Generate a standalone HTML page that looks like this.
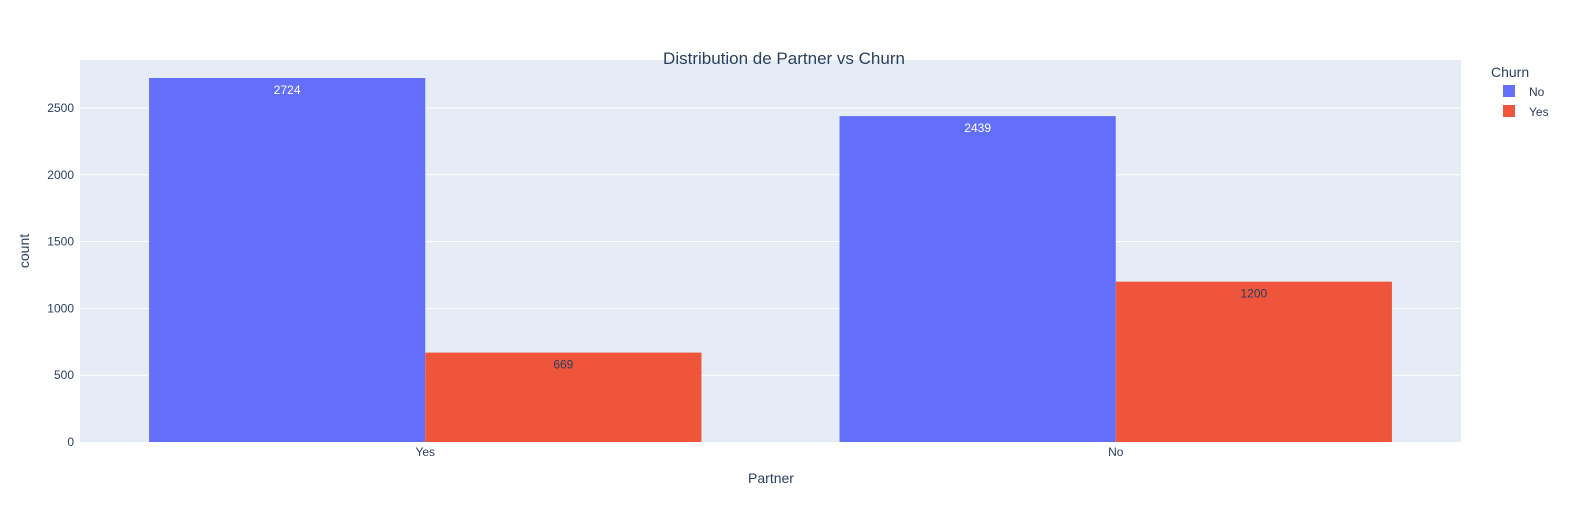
<!DOCTYPE html>
<html><head><meta charset="utf-8"><style>
body{margin:0;background:#fff;font-family:"Liberation Sans",Arial,sans-serif;overflow:hidden}
svg{display:block}
svg text{font-family:"Liberation Sans",Arial,sans-serif}
</style></head><body>
<svg id="chart" width="1577" height="525">
<rect x="0" y="0" width="1577" height="525" fill="#fff"/>
<rect x="80" y="60" width="1381" height="382" fill="#e5ecf6"/>
<g id="grid"></g><g id="bars"></g><g id="ticks"></g>
<text x="784" y="64" text-anchor="middle" font-size="17" fill="#2a3f5f">Distribution de Partner vs Churn</text>
<text x="771" y="483" text-anchor="middle" font-size="14" fill="#2a3f5f">Partner</text>
<text x="29" y="251" text-anchor="middle" font-size="14" fill="#2a3f5f" transform="rotate(-90 29 251)">count</text>
<text x="1491" y="77" font-size="14" fill="#2a3f5f">Churn</text>
<g><rect x="1503" y="85" width="12" height="12" fill="#636efa"/><text x="1529" y="96" font-size="12" fill="#2a3f5f">No</text></g>
<g><rect x="1503" y="105" width="12" height="12" fill="#ef553b"/><text x="1529" y="116" font-size="12" fill="#2a3f5f">Yes</text></g>
</svg>
<script>
const categories=["Yes","No"];
const seriesNames=["No","Yes"];
const noValues=[2724,2439];
const yesValues=[669,1200];
const yTicks=[0,500,1000,1500,2000,2500];
const NS="http://www.w3.org/2000/svg";
const x0=80,x1=1461,yb=442,ppu=0.13362;
const y=v=>yb-v*ppu;
const catW=(x1-x0)/categories.length;
const grid=document.getElementById('grid'),bars=document.getElementById('bars'),ticks=document.getElementById('ticks');
function mk(tag,attrs,parent){const e=document.createElementNS(NS,tag);for(const k in attrs)e.setAttribute(k,attrs[k]);parent.appendChild(e);return e;}
yTicks.forEach(t=>{
  if(t>0){const l=mk('line',{x1:x0,x2:x1,y1:y(t),y2:y(t),stroke:'#fff','stroke-width':1},grid);
  
  }
  const tx=mk('text',{x:74,y:y(t)+4,'text-anchor':'end','font-size':12,fill:'#2a3f5f'},ticks);tx.textContent=t;
  
  
});
const series=[noValues,yesValues],colors=['#636efa','#ef553b'],tcol=['#fff','#2a3f5f'];
categories.forEach((c,i)=>{
  const cx=x0+catW*(i+0.5),bw=catW*0.8/2;
  series.forEach((s,j)=>{
    const bx=cx-catW*0.4+j*bw;
    const r=mk('rect',{x:bx,y:y(s[i]),width:bw,height:yb-y(s[i]),fill:colors[j]},bars);
    
    
    const t=mk('text',{x:bx+bw/2,y:y(s[i])+16,'text-anchor':'middle','font-size':12,fill:tcol[j]},bars);t.textContent=s[i];
    
    
  });
  const tx=mk('text',{x:cx,y:yb+14,'text-anchor':'middle','font-size':12,fill:'#2a3f5f'},ticks);tx.textContent=c;
  
  
});
</script>
</body></html>
